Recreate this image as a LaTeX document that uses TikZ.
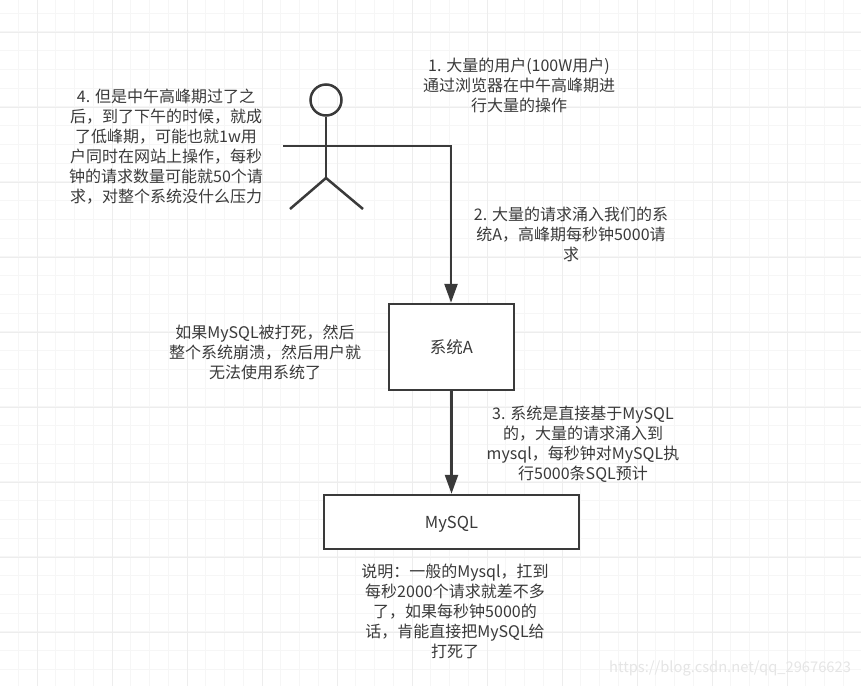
\documentclass[tikz,border=0pt]{standalone}
\usepackage{fontspec}
\setmainfont{Noto Sans CJK SC}
\usetikzlibrary{arrows.meta}
\definecolor{inkgray}{HTML}{3A3A3A}
\definecolor{gridminor}{HTML}{F6F6F6}
\definecolor{gridmajor}{HTML}{EDEDED}
\tikzset{%
    sysbox/.style={draw=inkgray,line width=2.5pt,fill=white,text=inkgray,font=\fontsize{16.5}{18}\selectfont,inner sep=0pt,text height=13pt,text depth=0pt},
    note/.style={align=center,text=inkgray,font=\fontsize{16}{20}\selectfont,inner sep=0pt}
}

\begin{document}
\begin{tikzpicture}[
        x=1pt,y=-1pt,
        edge/.style={line width=2.5pt,draw=inkgray},
        arrow/.style={edge,-{Triangle[length=19pt,width=13pt]}}
        ]
        \useasboundingbox (0,0) rectangle (861,686);
        \fill[white] (0,0) rectangle (861,686);

        % grid
        \foreach \x in {0,...,46}
            \draw[gridminor,line width=1pt] (-0.5+\x*18.75,0) -- (-0.5+\x*18.75,686);
        \foreach \y in {0,...,36}
            \draw[gridminor,line width=1pt] (0,13+\y*18.75) -- (861,13+\y*18.75);
        \foreach \x in {0,...,11}
            \draw[gridmajor,line width=1pt] (37+\x*75,0) -- (37+\x*75,686);
        \foreach \y in {0,...,8}
            \draw[gridmajor,line width=1pt] (0,32+\y*75) -- (861,32+\y*75);

        % actor
        \node[circle,draw=inkgray,line width=2.5pt,minimum size=31pt,inner sep=0pt] (head) at (326,100){};
        \coordinate (hip) at (326,178);
        \coordinate (armL) at (283,146);
        \coordinate (armR) at (371,146);
        \coordinate (legL) at (290,209);
        \coordinate (legR) at (363,209);
        \coordinate (bend) at (451,146);
        \draw[edge] (head) -- (hip);
        \draw[edge] (armL) -- (armR);
        \draw[edge] (legL) -- (hip) -- (legR);

        % boxes
        \node[sysbox,minimum width=125pt,minimum height=86pt] (sysA) at (451.5,347){系统A};
        \node[sysbox,minimum width=255pt,minimum height=54pt] (mysql) at (451.5,522){MySQL};

        \draw[arrow] (armR) -- (bend) -- (sysA.north -| bend);
        \draw[arrow] (sysA) -- (mysql);

        % notes
        \node[note] (note1) at (519,85){1. 大量的用户(100W用户)\\通过浏览器在中午高峰期进\\行大量的操作};
        \node[note] (note2) at (571,234){2. 大量的请求涌入我们的系\\统A，高峰期每秒钟5000请\\求};
        \node[note] (note3) at (583,444){3. 系统是直接基于MySQL\\的，大量的请求涌入到\\mysql，每秒钟对MySQL执\\行5000条SQL预计};
        \node[note] (note4) at (166,147){4. 但是中午高峰期过了之\\后，到了下午的时候，就成\\了低峰期，可能也就1w用\\户同时在网站上操作，每秒\\钟的请求数量可能就50个请\\求，对整个系统没什么压力};
        \node[note] (noteDead) at (265,352){如果MySQL被打死，然后\\整个系统崩溃，然后用户就\\无法使用系统了};
        \node[note] (noteMysql) at (455,611){说明：一般的Mysql，扛到\\每秒2000个请求就差不多\\了，如果每秒钟5000的\\话，肯能直接把MySQL给\\打死了};

        % watermark
        \node[text=black!10,font=\fontsize{14.7}{16}\selectfont,inner sep=0pt] (mark) at (730,668){https://blog.csdn.net/qq\_29676623};
    \end{tikzpicture}
\end{document}
